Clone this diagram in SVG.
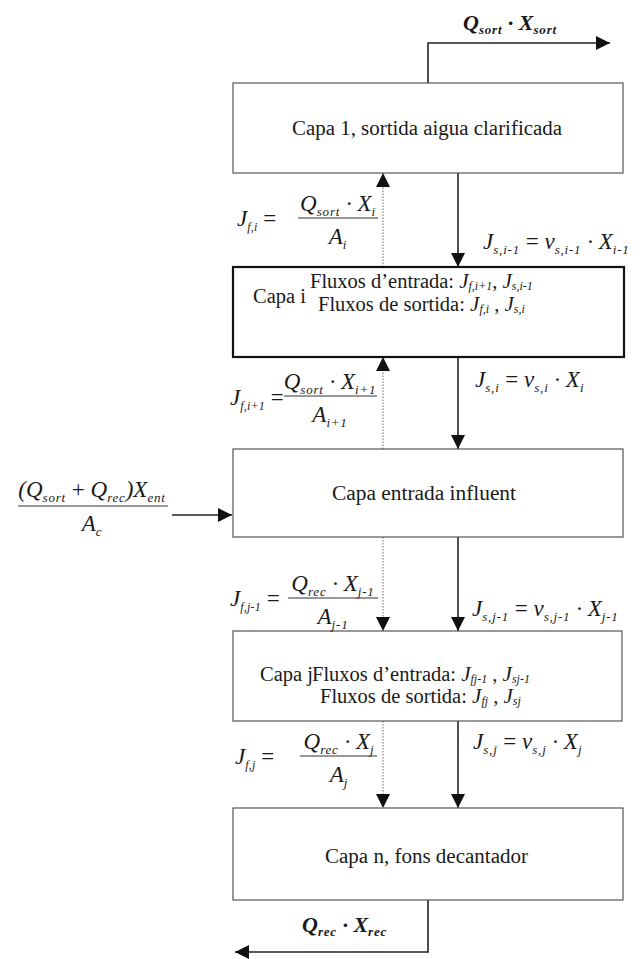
<svg xmlns="http://www.w3.org/2000/svg" width="642" height="959" viewBox="0 0 642 959">
<style>
.bg{fill:#ffffff}
.box{fill:#ffffff;stroke:#555;stroke-width:1.2}
.boxb{fill:#ffffff;stroke:#111;stroke-width:2.2}
.t{font-family:"Liberation Serif","Times New Roman",serif;font-size:20.5px;fill:#1a1a1a}
.m{font-family:"Liberation Serif","Times New Roman",serif;font-style:italic;font-size:23px;fill:#1a1a1a}
.mb{font-family:"Liberation Serif","Times New Roman",serif;font-style:italic;font-weight:bold;font-size:22px;fill:#1a1a1a}
.ji{font-family:"Liberation Serif","Times New Roman",serif;font-style:italic;font-size:21px}
.js{font-family:"Liberation Serif","Times New Roman",serif;font-style:italic;font-size:12px}
.s{font-size:13px;letter-spacing:0.8px}
.sl{font-size:12px;letter-spacing:0.2px}
.r{font-style:normal}
.sol{stroke:#222;stroke-width:1.6;fill:none}
.dot{stroke:#777;stroke-width:1.1;stroke-dasharray:1.5 1.5;fill:none}
.fr{stroke:#333;stroke-width:1}
</style>
<defs>
<marker id="ah" viewBox="0 0 14 14" refX="14" refY="7" markerWidth="14" markerHeight="14" markerUnits="userSpaceOnUse" orient="auto">
<path d="M0,0 L14,7 L0,14 z" fill="#111"/>
</marker>
</defs>
<rect class="bg" x="0" y="0" width="642" height="959"/>

<g id="connectors">
<path class="sol" d="M428,83 V43 H610" marker-end="url(#ah)"/>
<path class="dot" d="M383,267 V173" marker-end="url(#ah)"/>
<path class="sol" d="M458,173 V267" marker-end="url(#ah)"/>
<path class="dot" d="M383,449 V357" marker-end="url(#ah)"/>
<path class="sol" d="M458,357 V449" marker-end="url(#ah)"/>
<path class="sol" d="M172,515 H232" marker-end="url(#ah)"/>
<path class="dot" d="M383,537 V631" marker-end="url(#ah)"/>
<path class="sol" d="M458,537 V631" marker-end="url(#ah)"/>
<path class="dot" d="M383,721 V808" marker-end="url(#ah)"/>
<path class="sol" d="M458,721 V808" marker-end="url(#ah)"/>
<path class="sol" d="M428,900 V952 H235" marker-end="url(#ah)"/>
</g>

<g id="capa1">
<rect class="box" x="233" y="83" width="390" height="90"/>
<text class="t" x="292" y="135" font-size="21" textLength="270" lengthAdjust="spacingAndGlyphs">Capa 1, sortida aigua clarificada</text>
</g>

<g id="capai">
<rect class="boxb" x="233" y="267" width="391" height="90"/>
<text class="t" x="253" y="303">Capa i</text>
<text class="t" x="310" y="288">Fluxos d’entrada: <tspan class="ji">J</tspan><tspan class="js" dy="2">f,i+1</tspan><tspan dy="-2">, </tspan><tspan class="ji">J</tspan><tspan class="js" dy="2">s,i-1</tspan></text>
<text class="t" x="318" y="311">Fluxos de sortida: <tspan class="ji">J</tspan><tspan class="js" dy="2">f,i</tspan><tspan dy="-2"> , </tspan><tspan class="ji">J</tspan><tspan class="js" dy="2">s,i</tspan></text>
</g>

<g id="capaentrada">
<rect class="box" x="233" y="449" width="390" height="88"/>
<text class="t" x="332" y="500" font-size="21" textLength="184" lengthAdjust="spacingAndGlyphs">Capa entrada influent</text>
</g>

<g id="capaj">
<rect class="box" x="233" y="631" width="389" height="90"/>
<text class="t" x="260" y="681">Capa j</text>
<text class="t" x="312" y="681">Fluxos d’entrada: <tspan class="ji">J</tspan><tspan class="js" dy="2">fj-1</tspan><tspan dy="-2"> , </tspan><tspan class="ji">J</tspan><tspan class="js" dy="2">sj-1</tspan></text>
<text class="t" x="320" y="703">Fluxos de sortida: <tspan class="ji">J</tspan><tspan class="js" dy="2">fj</tspan><tspan dy="-2"> , </tspan><tspan class="ji">J</tspan><tspan class="js" dy="2">sj</tspan></text>
</g>

<g id="capan">
<rect class="box" x="233" y="808" width="390" height="92"/>
<text class="t" x="325" y="863" font-size="21" textLength="203" lengthAdjust="spacingAndGlyphs">Capa n, fons decantador</text>
</g>

<g id="labels">
<!-- top output -->
<text class="mb" x="463" y="30">Q<tspan class="s" dy="4">sort</tspan><tspan dy="-4"> · X</tspan><tspan class="s" dy="4">sort</tspan></text>
<!-- bottom output -->
<text class="mb" x="302" y="932">Q<tspan class="s" dy="4">rec</tspan><tspan dy="-4"> · X</tspan><tspan class="s" dy="4">rec</tspan></text>

<!-- J f,i -->
<text class="m" x="237" y="226">J<tspan class="sl" dy="5">f,i</tspan><tspan class="r" dy="-5"> =</tspan></text>
<text class="m" x="338" y="211" text-anchor="middle">Q<tspan class="s" dy="5">sort</tspan><tspan dy="-5"> · X</tspan><tspan class="s" dy="5">i</tspan></text>
<line class="fr" x1="298" y1="218" x2="378" y2="218"/>
<text class="m" x="338" y="244" text-anchor="middle">A<tspan class="s" dy="5">i</tspan></text>

<!-- J s,i-1 -->
<text class="m" x="483" y="249">J<tspan class="s" dy="5">s,i-1</tspan><tspan class="r" dy="-5"> = </tspan>v<tspan class="s" dy="5">s,i-1</tspan><tspan dy="-5"> · X</tspan><tspan class="s" dy="5">i-1</tspan></text>

<!-- J f,i+1 -->
<text class="m" x="230" y="405">J<tspan class="sl" dy="5">f,i+1</tspan><tspan class="r" dy="-5"> =</tspan></text>
<text class="m" x="330" y="389" text-anchor="middle">Q<tspan class="s" dy="5">sort</tspan><tspan dy="-5"> · X</tspan><tspan class="s" dy="5">i+1</tspan></text>
<line class="fr" x1="284" y1="396" x2="377" y2="396"/>
<text class="m" x="330" y="422" text-anchor="middle">A<tspan class="s" dy="5">i+1</tspan></text>

<!-- J s,i -->
<text class="m" x="475" y="387">J<tspan class="s" dy="5">s,i</tspan><tspan class="r" dy="-5"> = </tspan>v<tspan class="s" dy="5">s,i</tspan><tspan dy="-5"> · X</tspan><tspan class="s" dy="5">i</tspan></text>

<!-- input -->
<text class="m" x="92" y="497" text-anchor="middle" font-size="22">(Q<tspan class="s" dy="5">sort</tspan><tspan class="r" dy="-5"> + </tspan>Q<tspan class="s" dy="5">rec</tspan><tspan dy="-5">)X</tspan><tspan class="s" dy="5">ent</tspan></text>
<line class="fr" x1="18" y1="506" x2="168" y2="506"/>
<text class="m" x="92" y="531" text-anchor="middle" font-size="22">A<tspan class="s" dy="5">c</tspan></text>

<!-- J f,j-1 -->
<text class="m" x="230" y="606">J<tspan class="sl" dy="5">f,j-1</tspan><tspan class="r" dy="-5"> =</tspan></text>
<text class="m" x="333" y="591" text-anchor="middle">Q<tspan class="s" dy="5">rec</tspan><tspan dy="-5"> · X</tspan><tspan class="s" dy="5">j-1</tspan></text>
<line class="fr" x1="288" y1="598" x2="378" y2="598"/>
<text class="m" x="333" y="624" text-anchor="middle">A<tspan class="s" dy="5">j-1</tspan></text>

<!-- J s,j-1 -->
<text class="m" x="472" y="616">J<tspan class="s" dy="5">s,j-1</tspan><tspan class="r" dy="-5"> = </tspan>v<tspan class="s" dy="5">s,j-1</tspan><tspan dy="-5"> · X</tspan><tspan class="s" dy="5">j-1</tspan></text>

<!-- J f,j -->
<text class="m" x="235" y="764">J<tspan class="sl" dy="5">f,j</tspan><tspan class="r" dy="-5"> =</tspan></text>
<text class="m" x="339" y="749" text-anchor="middle">Q<tspan class="s" dy="5">rec</tspan><tspan dy="-5"> · X</tspan><tspan class="s" dy="5">j</tspan></text>
<line class="fr" x1="300" y1="756" x2="377" y2="756"/>
<text class="m" x="339" y="782" text-anchor="middle">A<tspan class="s" dy="5">j</tspan></text>

<!-- J s,j -->
<text class="m" x="473" y="749">J<tspan class="s" dy="5">s,j</tspan><tspan class="r" dy="-5"> = </tspan>v<tspan class="s" dy="5">s,j</tspan><tspan dy="-5"> · X</tspan><tspan class="s" dy="5">j</tspan></text>
</g>
</svg>
